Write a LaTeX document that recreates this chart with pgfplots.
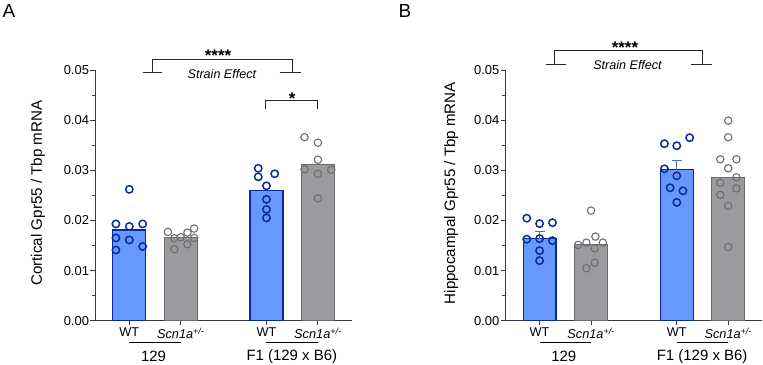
\documentclass[border=0pt]{standalone}
\usepackage{pgfplots}
\pgfplotsset{compat=1.18}
\usepackage{fontspec}
\setmainfont{Liberation Sans}
\definecolor{barblue}{HTML}{6699FF}
\definecolor{edgeblue}{HTML}{0A2896}
\definecolor{ptblue}{HTML}{0D2A9C}
\definecolor{bargray}{HTML}{9B9B9F}
\definecolor{edgegray}{HTML}{6B6B6B}
\definecolor{ptgray}{HTML}{6E6E6E}
\definecolor{axisgray}{HTML}{3A3A3A}
\definecolor{errblue}{HTML}{4A6AD0}
\newcommand{\scn}{\textit{Scn1a}\textsuperscript{\textit{+/-}}}
\tikzset{ann/.style={draw=black!85, line width=0.9bp}}
\pgfplotsset{
 panel/.style={
  scale only axis, width=257bp, height=250.7bp,
  xmin=-0.667, xmax=4.33, ymin=0, ymax=0.05,
  axis x line*=bottom, axis y line*=left,
  axis line style={axisgray, line width=0.9bp, -},
  ytick={0,0.01,0.02,0.03,0.04,0.05},
  minor y tick num=1,
  xtick={0,1,2.667,3.667},
  xticklabels={WT,\scn,WT,\scn},
  tick align=outside, major tick length=4.5bp, minor tick length=3bp,
  tick style={axisgray, line width=0.9bp},
  scaled y ticks=false,
  /pgf/number format/assume math mode=true,
  yticklabel style={/pgf/number format/fixed, /pgf/number format/precision=2, /pgf/number format/fixed zerofill, xshift=2bp},
  yticklabel style={font=\fontsize{13}{15}\selectfont},
  xticklabel style={font=\fontsize{12.8}{15}\selectfont, yshift=1bp},
  ylabel style={font=\fontsize{15.2}{17}\selectfont, anchor=center},
  clip=false,
 },
 bluebar/.style={ybar, bar width=0.64, fill=barblue, draw=edgeblue, line width=1.2bp},
 graybar/.style={ybar, bar width=0.64, fill=bargray, draw=edgegray, line width=1.0bp},
 bluept/.style={only marks, mark=o, mark size=3.7bp, mark options={draw=ptblue, line width=1.5bp, fill=none}},
 graypt/.style={only marks, mark=o, mark size=3.7bp, mark options={draw=ptgray, line width=1.1bp, fill=none}},
}
\begin{document}
\begin{tikzpicture}
\path[use as bounding box] (0,0) rectangle (763bp,365bp);
\node[font=\fontsize{19}{21}\selectfont, anchor=center] at (9bp,354bp) {A};
\node[font=\fontsize{19}{21}\selectfont, anchor=center] at (405bp,354bp) {B};
% ---------------- Panel A ----------------
\begin{axis}[panel, at={(95bp,44.3bp)}, anchor=south west,
  ylabel={Cortical Gpr55 / Tbp mRNA},
  ylabel style={at={(axis description cs:-0.222,0.509)}}]
\addplot[bluebar] coordinates {(0,0.0181) (2.667,0.02595)};
\addplot[graybar] coordinates {(1,0.01657) (3.667,0.0312)};
% WT 129
\addplot[bluept] coordinates {
 (-0.26,0.0193) (0,0.0262) (0,0.0188) (0.26,0.0193)
 (-0.26,0.0165) (0,0.0161) (-0.26,0.0141) (0.26,0.0148)};
% Scn 129
\addplot[graypt] coordinates {
 (0.75,0.0177) (0.875,0.01645) (1,0.01664) (1.13,0.01757)
 (1.26,0.01837) (0.875,0.01425) (1.13,0.01525) (1.26,0.0165)};
% WT F1
\addplot[bluept] coordinates {
 (2.507,0.0304) (2.827,0.0293) (2.507,0.0287) (2.667,0.0269)
 (2.667,0.0242) (2.667,0.0222) (2.667,0.0205)};
% Scn F1
\addplot[graypt] coordinates {
 (3.407,0.0366) (3.667,0.0355) (3.667,0.0321) (3.407,0.0302)
 (3.927,0.0301) (3.667,0.0293) (3.667,0.0244)};
% annotations
\draw[ann] (axis cs:0.26,0.0495) -- (axis cs:0.64,0.0495);
\draw[ann] (axis cs:2.93,0.0495) -- (axis cs:3.335,0.0495);
\draw[ann] (axis cs:0.447,0.0495) -- (axis cs:0.447,0.0522) -- (axis cs:3.165,0.0522) -- (axis cs:3.165,0.0495);
\node[font=\fontsize{17}{19}\selectfont\bfseries] at (axis cs:1.726,0.0528) {****};
\node[font=\fontsize{12.6}{15}\selectfont\itshape] at (axis cs:1.8,0.0492) {Strain Effect};
\draw[ann] (axis cs:2.64,0.04226) -- (axis cs:2.64,0.0439) -- (axis cs:3.665,0.0439) -- (axis cs:3.665,0.04226);
\node[font=\fontsize{17}{19}\selectfont\bfseries] at (axis cs:3.165,0.0442) {*};
% group labels
\draw[black, line width=0.9bp] (axis cs:0,-0.00431) -- (axis cs:1,-0.00431);
\draw[black, line width=0.9bp] (axis cs:2.667,-0.00431) -- (axis cs:3.667,-0.00431);
\node[font=\fontsize{15}{17}\selectfont] at (axis cs:0.47,-0.0071) {129};
\node[font=\fontsize{15}{17}\selectfont] at (axis cs:3.16,-0.0071) {F1 (129 x B6)};
\end{axis}
% ---------------- Panel B ----------------
\begin{axis}[panel, at={(505.3bp,44.3bp)}, anchor=south west,
  ylabel={Hippocampal Gpr55 / Tbp mRNA},
  ylabel style={at={(axis description cs:-0.210,0.509)}}]
\addplot[bluebar] coordinates {(0,0.01637) (2.667,0.0301)};
\addplot[graybar] coordinates {(1,0.0151) (3.667,0.0286)};
\addplot[draw=none, mark=none, forget plot, error bars/.cd, y dir=plus, y explicit,
  error mark=-, error mark options={rotate=90, mark size=5bp, draw=errblue, line width=1bp},
  error bar style={draw=errblue, line width=1bp}]
  coordinates {(0,0.01637) +- (0,0.0014) (2.667,0.0301) +- (0,0.0018)};
% WT 129
\addplot[bluept] coordinates {
 (-0.25,0.02044) (0,0.01936) (0.25,0.01956) (-0.25,0.01625)
 (0,0.01637) (0.25,0.01597) (0,0.01397) (0,0.01198)};
% Scn 129
\addplot[graypt] coordinates {
 (1,0.02196) (0.75,0.01511) (0.91,0.01557) (1.085,0.01677)
 (1.23,0.01557) (1.07,0.01445) (0.91,0.01046) (1.07,0.01158)};
% WT F1
\addplot[bluept] coordinates {
 (2.427,0.0353) (2.667,0.0349) (2.917,0.0365) (2.427,0.0303)
 (2.667,0.0289) (2.537,0.0265) (2.787,0.0259) (2.667,0.0236)};
% Scn F1
\addplot[graypt] coordinates {
 (3.667,0.0399) (3.667,0.0366) (3.512,0.0322) (3.827,0.0322)
 (3.667,0.0304) (3.827,0.0286) (3.512,0.0275) (3.827,0.0264)
 (3.512,0.0251) (3.667,0.0229) (3.667,0.0147)};
% annotations
\draw[ann] (axis cs:0.117,0.0511) -- (axis cs:0.517,0.0511);
\draw[ann] (axis cs:2.94,0.0511) -- (axis cs:3.35,0.0511);
\draw[ann] (axis cs:0.297,0.0511) -- (axis cs:0.297,0.0539) -- (axis cs:3.17,0.0539) -- (axis cs:3.17,0.0511);
\node[font=\fontsize{17}{19}\selectfont\bfseries] at (axis cs:1.66,0.0545) {****};
\node[font=\fontsize{12.6}{15}\selectfont\itshape] at (axis cs:1.71,0.0509) {Strain Effect};
% group labels
\draw[black, line width=0.9bp] (axis cs:0,-0.00431) -- (axis cs:1,-0.00431);
\draw[black, line width=0.9bp] (axis cs:2.667,-0.00431) -- (axis cs:3.667,-0.00431);
\node[font=\fontsize{15}{17}\selectfont] at (axis cs:0.47,-0.0071) {129};
\node[font=\fontsize{15}{17}\selectfont] at (axis cs:3.16,-0.0071) {F1 (129 x B6)};
\end{axis}
\end{tikzpicture}
\end{document}
